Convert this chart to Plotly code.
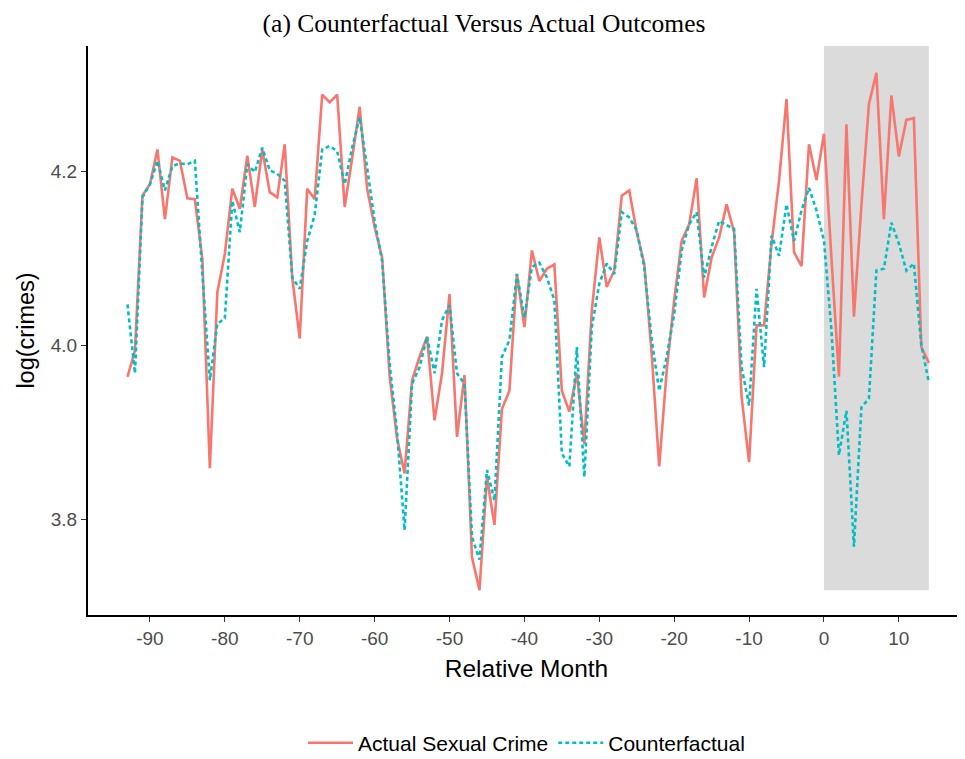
import plotly.graph_objects as go

months = list(range(-93, 15))

actual = [
    3.964, 3.994, 4.172, 4.185, 4.225, 4.145, 4.216, 4.212, 4.169, 4.168,   # -93..-84
    4.099, 3.859, 4.061, 4.105, 4.180, 4.157, 4.218, 4.159, 4.225, 4.176,   # -83..-74
    4.170, 4.231, 4.078, 4.008, 4.180, 4.168, 4.288, 4.279, 4.288, 4.159,   # -73..-64
    4.215, 4.274, 4.180, 4.136, 4.101, 3.965, 3.893, 3.853, 3.960, 3.987,   # -63..-54
    4.010, 3.914, 3.968, 4.059, 3.895, 3.966, 3.757, 3.719, 3.849, 3.794,   # -53..-44
    3.927, 3.948, 4.082, 4.021, 4.109, 4.074, 4.088, 4.093, 3.948, 3.924,   # -43..-34
    3.968, 3.887, 4.040, 4.124, 4.067, 4.086, 4.172, 4.178, 4.130, 4.094,   # -33..-24
    3.990, 3.861, 3.971, 4.052, 4.120, 4.139, 4.192, 4.055, 4.101, 4.124,   # -23..-14
    4.162, 4.130, 3.941, 3.866, 4.023, 4.023, 4.117, 4.189, 4.283, 4.107,   # -13..-4
    4.091, 4.231, 4.190, 4.243, 4.100, 3.964, 4.254, 4.033, 4.161, 4.277,   # -3..6
    4.313, 4.145, 4.287, 4.217, 4.259, 4.261, 3.998, 3.980                  # 7..14
]

counterfactual = [
    4.047, 3.968, 4.170, 4.185, 4.212, 4.178, 4.206, 4.209, 4.208, 4.212,   # -93..-84
    4.082, 3.960, 4.025, 4.031, 4.166, 4.130, 4.208, 4.199, 4.227, 4.201,   # -83..-74
    4.197, 4.189, 4.078, 4.065, 4.120, 4.150, 4.225, 4.229, 4.223, 4.185,   # -73..-64
    4.227, 4.262, 4.204, 4.143, 4.097, 3.979, 3.900, 3.788, 3.956, 3.975,   # -63..-54
    4.010, 3.968, 4.029, 4.046, 3.968, 3.956, 3.780, 3.754, 3.857, 3.822,   # -53..-44
    3.987, 4.006, 4.082, 4.032, 4.090, 4.095, 4.078, 4.052, 3.876, 3.861,   # -43..-34
    3.998, 3.849, 4.021, 4.071, 4.094, 4.082, 4.153, 4.147, 4.132, 4.090,   # -33..-24
    4.006, 3.948, 3.987, 4.036, 4.109, 4.139, 4.153, 4.078, 4.113, 4.143,   # -23..-14
    4.138, 4.134, 3.975, 3.931, 4.065, 3.975, 4.126, 4.103, 4.162, 4.120,   # -13..-4
    4.155, 4.181, 4.155, 4.120, 4.017, 3.874, 3.925, 3.769, 3.929, 3.939,   # -3..6
    4.086, 4.088, 4.141, 4.117, 4.086, 4.094, 4.000, 3.958                  # 7..14
]

x_ticks = [-90, -80, -70, -60, -50, -40, -30, -20, -10, 0, 10]
x_tick_labels = ["-90", "-80", "-70", "-60", "-50", "-40", "-30", "-20", "-10", "0", "10"]
y_ticks = [3.8, 4.0, 4.2]
y_tick_labels = ["3.8", "4.0", "4.2"]

treat_start = 0
treat_end = 14

fig = go.Figure()

fig.add_shape(type="rect", xref="x", yref="y",
              x0=treat_start, x1=treat_end, y0=min(actual), y1=4.344,
              fillcolor="#dbdbdb", line=dict(width=0), layer="below")

fig.add_trace(go.Scatter(x=months, y=actual, mode="lines", name="Actual Sexual Crime",
                         line=dict(color="#F8766D", width=2.6)))
fig.add_trace(go.Scatter(x=months, y=counterfactual, mode="lines", name="Counterfactual",
                         line=dict(color="#00BFC4", width=2.6, dash="4px,3px")))

# the page adds an 8px body margin, so figure coordinates are offset by 8px
fig.update_layout(
    width=965, height=759,
    paper_bgcolor="white", plot_bgcolor="white",
    margin=dict(l=80, r=8, t=38, b=152, autoexpand=False),
    font=dict(family="Liberation Sans, Arial, sans-serif", color="black"),
    title=dict(text="(a) Counterfactual Versus Actual Outcomes",
               font=dict(family="Liberation Serif, DejaVu Serif, serif", size=25.5, color="black"),
               x=476 / 965, xanchor="center", xref="container",
               y=1 - 15 / 759, yanchor="middle", yref="container", automargin=False),
    showlegend=True,
    legend=dict(orientation="h", x=0.5, xanchor="center", y=-0.225, yanchor="middle",
                font=dict(size=21, color="black"), traceorder="normal",
                itemwidth=45, tracegroupgap=0),
    xaxis=dict(range=[-98.27, 18.83], tickmode="array", tickvals=x_ticks, ticktext=x_tick_labels,
               automargin=False,
               showgrid=False, zeroline=False, showline=True, linecolor="black", linewidth=2,
               ticks="outside", ticklen=5, tickcolor="#333333", tickwidth=1.3,
               tickfont=dict(size=19, color="#4d4d4d"),
               title=dict(text="Relative Month", font=dict(size=24.5, color="black"), standoff=12)),
    yaxis=dict(range=[3.6905, 4.3438], tickmode="array", tickvals=y_ticks, ticktext=y_tick_labels,
               automargin=False,
               showgrid=False, zeroline=False, showline=True, linecolor="black", linewidth=2,
               ticks="outside", ticklen=5, tickcolor="#333333", tickwidth=1.3,
               tickfont=dict(size=19, color="#4d4d4d"),
               title=dict(text="log(crimes)", font=dict(size=23.5, color="black"), standoff=10)),
)

fig.write_html("out.html")
